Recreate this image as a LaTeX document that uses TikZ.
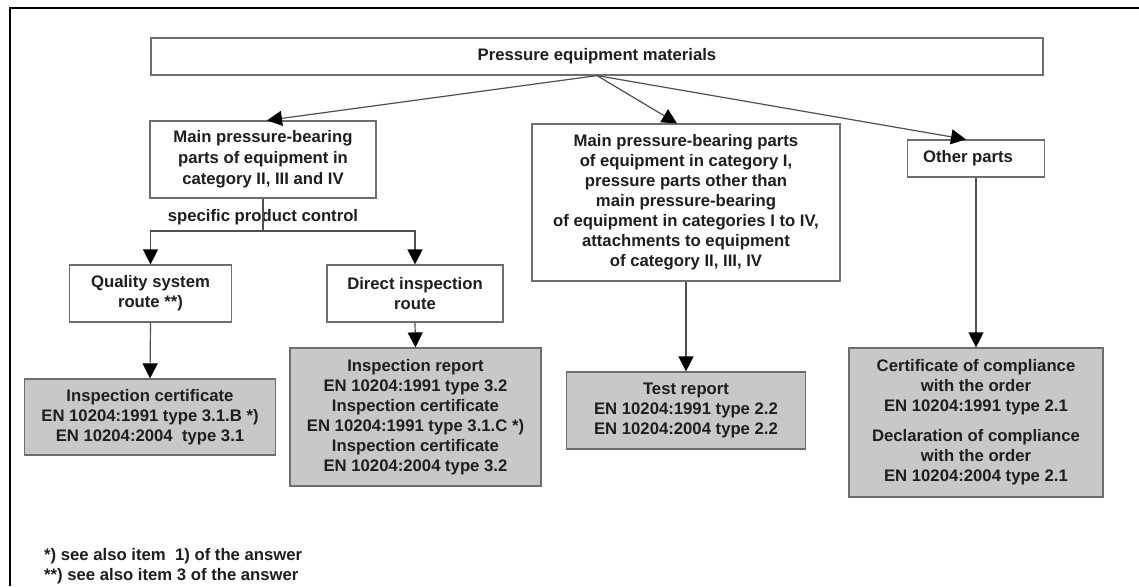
\documentclass[tikz,border=0pt]{standalone}
\usepackage{fontspec}
\setmainfont{Liberation Sans}
\usetikzlibrary{arrows.meta,calc}
\definecolor{boxgray}{HTML}{6E6E6E}
\definecolor{fillgray}{HTML}{C8C8C8}
\definecolor{linegray}{HTML}{505050}
\definecolor{txtcol}{HTML}{1E1E1E}
\begin{document}
\begin{tikzpicture}[x=1pt,y=-1pt,
  txtfont/.style={font=\bfseries\fontsize{16.7}{20}\selectfont, text=txtcol},
  box/.style={draw=boxgray, line width=1.2pt, inner sep=0pt, align=center, txtfont},
  shaded/.style={box, fill=fillgray},
  plain/.style={inner sep=0pt, align=center, txtfont},
  arr/.style={draw=linegray, line width=1.2pt, -{Triangle[width=15pt,length=15pt,black]}},
  ln/.style={draw=linegray, line width=1.2pt}]
\useasboundingbox (0,0) rectangle (1139,586);
\fill[white] (0,0) rectangle (1139,586);
\draw[line width=2.5pt, black] (10,586) -- (10,8) -- (1139,8);

\node[box, minimum width=892pt, minimum height=37pt] (top) at (597,56.5) {Pressure equipment materials};
\node[box, minimum width=226pt, minimum height=77pt, font=\bfseries\fontsize{16.7}{21}\selectfont] (A) at (263,159.5)
  {Main pressure-bearing\\parts of equipment in\\category II, III and IV};
\node[box, minimum width=308pt, minimum height=157pt] (B) at (686,202.5)
  {Main pressure-bearing parts\\of equipment in category I,\\pressure parts other than\\main pressure-bearing\\of equipment in categories I to IV,\\attachments to equipment\\of category II, III, IV};
\node[box, minimum width=137.5pt, minimum height=37pt] (C) at (976,158.5) {};
\node[plain] (Ct) at (968,158.5) {Other parts};

\node[box, minimum width=162.6pt, minimum height=57pt] (Q) at (150.5,293.5) {Quality system\\route **)};
\node[box, minimum width=176pt, minimum height=57pt] (D) at (415,293.5) {Direct inspection\\route};

\node[shaded, minimum width=251pt, minimum height=76pt] (Q1) at (150,417)
  {Inspection certificate\\EN 10204:1991 type 3.1.B *)\\EN 10204:2004\ \ type 3.1};
\node[shaded, minimum width=251pt, minimum height=138pt] (D1) at (415.5,417)
  {Inspection report\\EN 10204:1991 type 3.2\\Inspection certificate\\EN 10204:1991 type 3.1.C *)\\Inspection certificate\\EN 10204:2004 type 3.2};
\node[shaded, minimum width=239pt, minimum height=77pt] (B1) at (686,410.5)
  {Test report\\EN 10204:1991 type 2.2\\EN 10204:2004 type 2.2};
\node[shaded, minimum width=254pt, minimum height=149pt] (C1) at (976,422.5)
  {Certificate of compliance\\with the order\\EN 10204:1991 type 2.1\\[10pt]Declaration of compliance\\with the order\\EN 10204:2004 type 2.1};

\draw[arr] (top.south) -- ([xshift=4pt]A.north);
\draw[arr] (top.south) -- ([xshift=-9pt]B.north);
\draw[arr] (top.south) -- ([xshift=-10pt]C.north);

\node[plain] (spc) at (263,217) {specific product control};
\coordinate (split) at (263,231);
\draw[ln] (A.south) -- (split);
\draw[arr] (split) -| (Q.north);
\draw[arr] (split) -| (D.north);

\draw[arr] (Q.south) -- (Q1.north);
\draw[arr] (D.south) -- (D1.north);
\draw[arr] (B.south) -- (B1.north);
\draw[arr] (C.south) -- (C1.north);

\node[plain, anchor=west] (fn1) at (44,556) {*) see also item\ \ 1) of the answer};
\node[plain, anchor=west] (fn2) at (44,576) {**) see also item 3 of the answer};
\end{tikzpicture}
\end{document}
